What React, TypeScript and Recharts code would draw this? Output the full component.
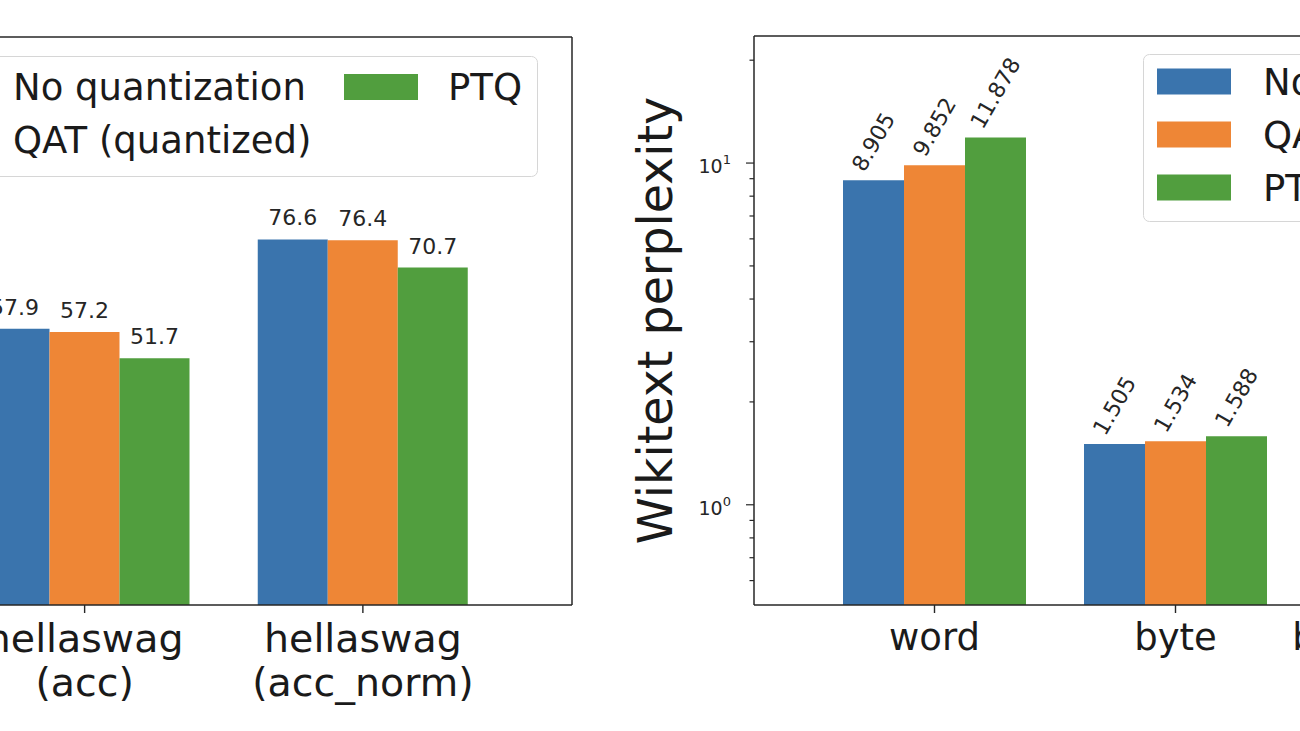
import React from "react";
import { BarChart, Bar, XAxis, YAxis, Legend } from "recharts";

const FONT = '"DejaVu Sans", "Liberation Sans", sans-serif';
const INK = "#262626";

// left panel: hellaswag accuracy
const accCategories = ["hellaswag\n(acc)", "hellaswag\n(acc_norm)"];
const accNoQuant = [57.9, 76.6];
const accQat = [57.2, 76.4];
const accPtq = [51.7, 70.7];

// right panel: wikitext perplexity (log y)
const pplCategories = ["word", "byte", "bits_per_byte"];
const pplNoQuant = [8.905, 1.505, null];
const pplQat = [9.852, 1.534, null];
const pplPtq = [11.878, 1.588, null];
const pplMajorTicks = [1, 10];
const pplMinorTicks = [0.6, 0.7, 0.8, 0.9, 2, 3, 4, 5, 6, 7, 8, 9, 20];

const seriesKeys = ["noQuant", "qat", "ptq"];
const seriesNames = ["No quantization", "QAT (quantized)", "PTQ"];
const seriesColors = ["#3a74ad", "#ee8636", "#519e3e"];

const accData = accCategories.map((name, i) => ({
  name,
  noQuant: accNoQuant[i],
  qat: accQat[i],
  ptq: accPtq[i],
}));

const pplData = pplCategories.map((name, i) => ({
  name,
  noQuant: pplNoQuant[i],
  qat: pplQat[i],
  ptq: pplPtq[i],
}));

function CategoryTick({ x, y, payload, fs = 36, first = 45, gap = 42 }: any) {
  const lines = String(payload.value).split("\n");
  return (
    <g>
      <line x1={x} x2={x} y1={y} y2={y + 8} stroke={INK} strokeWidth={1.4} />
      {lines.map((t, i) => (
        <text
          key={i}
          x={x}
          y={y + first + i * gap}
          textAnchor="middle"
          fontSize={fs}
          fontFamily={FONT}
          fill="#1a1a1a"
        >
          {t}
        </text>
      ))}
    </g>
  );
}

function LogTick({ x, y, payload }: any) {
  const v = payload.value;
  const major = pplMajorTicks.includes(v);
  return (
    <g>
      <line x1={x - (major ? 8 : 4.5)} x2={x} y1={y} y2={y} stroke={INK} strokeWidth={1.2} />
      {major && (
        <text x={x - 23} y={y + 10} textAnchor="end" fontSize={19} fontFamily={FONT} fill={INK}>
          10
          <tspan fontSize={13} dy={-9}>
            {Math.round(Math.log10(v))}
          </tspan>
        </text>
      )}
    </g>
  );
}

function TopLabel({ x, y, width, value }: any) {
  const v = Array.isArray(value) ? value[1] : value;
  if (v == null) return null;
  return (
    <text
      x={x + width / 2}
      y={y - 14}
      textAnchor="middle"
      fontSize={22}
      fontFamily={FONT}
      fill={INK}
    >
      {v.toFixed(1)}
    </text>
  );
}

function RotatedLabel({ x, y, width, value }: any) {
  const v = Array.isArray(value) ? value[1] : value;
  if (v == null) return null;
  const text = v.toFixed(3);
  const fs = 22;
  const w = [...text].reduce((s, c) => s + (c === "." ? 0.318 : 0.636), 0) * fs;
  const th = (60 * Math.PI) / 180;
  const bh = w * Math.sin(th) + fs * 0.75 * Math.cos(th);
  const cx = x + width / 2;
  const cy = y - 7 - bh / 2;
  return (
    <text
      transform={`translate(${cx},${cy}) rotate(-60)`}
      textAnchor="middle"
      dominantBaseline="central"
      fontSize={fs}
      fontFamily={FONT}
      fill={INK}
    >
      {text}
    </text>
  );
}

function YTitle({ viewBox }: any) {
  if (!viewBox) return null;
  const tx = viewBox.x + viewBox.width - 82;
  const ty = viewBox.y + viewBox.height / 2;
  return (
    <text
      transform={`translate(${tx},${ty}) rotate(-90)`}
      textAnchor="middle"
      fontSize={47.5}
      fontFamily={FONT}
      fill="#1a1a1a"
    >
      Wikitext perplexity
    </text>
  );
}

// matplotlib-like legend box; slots say where each series goes
function LegendBox({ w, h, slots }: { w: number; h: number; slots: { px: number; tx: number; cy: number }[] }) {
  return (
    <svg width={w} height={h} style={{ display: "block" }}>
      <rect x={0.5} y={0.5} width={w - 1} height={h - 1} rx={6} fill="#fff" fillOpacity={0.8} stroke="#d6d6d6" />
      {slots.map((s, i) => (
        <g key={i}>
          <rect x={s.px} y={s.cy - 13} width={74} height={26} fill={seriesColors[i]} />
          <text x={s.tx} y={s.cy + 13} fontSize={37} fontFamily={FONT} fill="#1a1a1a">
            {seriesNames[i]}
          </text>
        </g>
      ))}
    </svg>
  );
}

function AccChart() {
  return (
    <BarChart
      width={792}
      height={731}
      data={accData}
      margin={{ top: 36, right: 19, bottom: 26, left: 15.5 }}
      barGap={0}
      barSize={70}
    >
      <XAxis
        dataKey="name"
        interval={0}
        tickSize={0}
        tickMargin={0}
        height={100}
        padding={{ left: 70, right: 70 }}
        tick={<CategoryTick fs={39.5} first={47} gap={44} />}
        axisLine={{ stroke: INK, strokeWidth: 1.5 }}
      />
      <XAxis
        xAxisId="top"
        orientation="top"
        dataKey="name"
        height={1}
        tick={false}
        tickLine={false}
        padding={{ left: 70, right: 70 }}
        axisLine={{ stroke: INK, strokeWidth: 1.5 }}
      />
      <YAxis
        width={60}
        domain={[0, 119]}
        allowDataOverflow
        axisLine={{ stroke: INK, strokeWidth: 1.5 }}
      />
      <YAxis
        yAxisId="right"
        orientation="right"
        width={1}
        domain={[0, 1]}
        tick={false}
        tickLine={false}
        axisLine={{ stroke: INK, strokeWidth: 1.5 }}
      />
      {seriesKeys.map((k, i) => (
        <Bar
          key={k}
          dataKey={k}
          name={seriesNames[i]}
          fill={seriesColors[i]}
          isAnimationActive={false}
          label={TopLabel}
        />
      ))}
      <Legend
        layout="vertical"
        align="center"
        verticalAlign="middle"
        wrapperStyle={{ left: 94, top: 56, width: 644, height: 121 }}
        content={() => (
          <LegendBox
            w={644}
            h={121}
            slots={[
              { px: 15, tx: 119, cy: 31 },
              { px: 15, tx: 119, cy: 84 },
              { px: 450, tx: 554, cy: 31 },
            ]}
          />
        )}
      />
    </BarChart>
  );
}

function PplChart() {
  return (
    <BarChart
      width={1060}
      height={731}
      data={pplData}
      margin={{ top: 35, right: 22, bottom: 26, left: 0 }}
      barGap={0}
      barSize={61}
    >
      <XAxis
        dataKey="name"
        interval={0}
        tickSize={0}
        tickMargin={0}
        height={100}
        padding={{ left: 60, right: 60 }}
        tick={<CategoryTick fs={37} first={45} gap={43} />}
        axisLine={{ stroke: INK, strokeWidth: 1.5 }}
      />
      <XAxis
        xAxisId="top"
        orientation="top"
        dataKey="name"
        height={1}
        tick={false}
        tickLine={false}
        padding={{ left: 60, right: 60 }}
        axisLine={{ stroke: INK, strokeWidth: 1.5 }}
      />
      <YAxis
        width={194}
        type="number"
        scale="log"
        domain={[0.509, 23.54]}
        allowDataOverflow
        ticks={[...pplMinorTicks.slice(0, 4), 1, ...pplMinorTicks.slice(4, 12), 10, 20]}
        interval={0}
        tickSize={0}
        tickMargin={0}
        tick={<LogTick />}
        axisLine={{ stroke: INK, strokeWidth: 1.5 }}
        label={(props: any) => <YTitle {...props} />}
      />
      <YAxis
        yAxisId="right"
        orientation="right"
        width={1}
        domain={[0, 1]}
        tick={false}
        tickLine={false}
        axisLine={{ stroke: INK, strokeWidth: 1.5 }}
      />
      {seriesKeys.map((k, i) => (
        <Bar
          key={k}
          dataKey={k}
          name={seriesNames[i]}
          fill={seriesColors[i]}
          isAnimationActive={false}
          label={RotatedLabel}
        />
      ))}
      <Legend
        layout="vertical"
        align="center"
        verticalAlign="middle"
        wrapperStyle={{ left: 583, top: 54, width: 430, height: 168 }}
        content={() => (
          <LegendBox
            w={430}
            h={168}
            slots={[
              { px: 14, tx: 120, cy: 27.5 },
              { px: 14, tx: 120, cy: 80.5 },
              { px: 14, tx: 120, cy: 133.5 },
            ]}
          />
        )}
      />
    </BarChart>
  );
}

export default function App() {
  return (
    <div
      style={{
        position: "fixed",
        left: 0,
        top: 0,
        width: 1300,
        height: 731,
        overflow: "hidden",
        background: "#fff",
        fontFamily: FONT,
      }}
    >
      <div style={{ position: "absolute", left: -200, top: 0 }}>
        <AccChart />
      </div>
      <div style={{ position: "absolute", left: 560, top: 0 }}>
        <PplChart />
      </div>
    </div>
  );
}
